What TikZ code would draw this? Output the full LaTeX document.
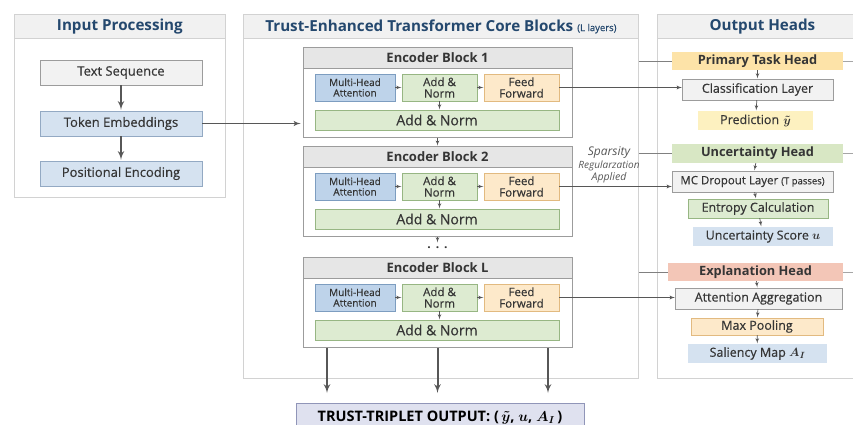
\documentclass[tikz,border=0pt]{standalone}
\usepackage{amsmath}
\usepackage{fontspec}
\setmainfont{Open Sans}[UprightFeatures = {FakeBold = 0.4}]
\usepackage{tikz}
\usetikzlibrary{arrows,calc,shapes,positioning}

\definecolor{panelline}{HTML}{D2D2D2}
\definecolor{hdrfill}{HTML}{F1F1F1}
\definecolor{ttlblue}{HTML}{24486E}
\definecolor{txtgray}{HTML}{353535}
\definecolor{arrgray}{HTML}{575757}
\definecolor{grayfill}{HTML}{F2F2F2}
\definecolor{grayline}{HTML}{9C9C9C}
\definecolor{bluefill}{HTML}{D5E2F0}
\definecolor{blueline}{HTML}{93A9C3}
\definecolor{mhafill}{HTML}{BED3EA}
\definecolor{mhaline}{HTML}{7D9DC0}
\definecolor{anfill}{HTML}{DDEBD1}
\definecolor{anline}{HTML}{97B683}
\definecolor{fffill}{HTML}{FDE9CA}
\definecolor{ffline}{HTML}{E2BA80}
\definecolor{enchdr}{HTML}{E6E6E6}
\definecolor{primfill}{HTML}{FDE3A8}
\definecolor{predfill}{HTML}{FDF1C0}
\definecolor{uncfill}{HTML}{D8E7C4}
\definecolor{explfill}{HTML}{F3C6B7}
\definecolor{outfill}{HTML}{DFE1EF}
\definecolor{outline}{HTML}{9095B8}

\begin{document}
\begin{tikzpicture}[
    x = 1pt, y = -1pt,
    font = \fontsize{11}{13}\selectfont
  ]

  \useasboundingbox (0,0) rectangle (853,425);
  \clip (0,0) rectangle (853,425);

  \tikzstyle {every node} = [text = txtgray, inner sep = 0, align = center]
  \tikzstyle {every path} = [color = arrgray, -latex']
  \tikzstyle {panel} = [draw = panelline, fill = white, line width = 0.8pt, anchor = north west]
  \tikzstyle {hdr} = [draw = panelline, fill = hdrfill, line width = 0.8pt, anchor = north west, minimum height = 24, text = ttlblue, font = \bfseries\fontsize{15.2}{17}\selectfont]
  \tikzstyle {inbox} = [draw = grayline, minimum width = 162, minimum height = 25, font = \fontsize{13}{15}\selectfont]
  \tikzstyle {thick arr} = [line width = 2pt, -latex', shorten >= 1pt]
  \tikzstyle {enc} = [draw = grayline, fill = white, line width = 0.8pt, minimum width = 269, minimum height = 90, anchor = north]
  \tikzstyle {enchead} = [draw = grayline, fill = enchdr, line width = 0.8pt, minimum width = 269, minimum height = 21, anchor = north, font = \bfseries\fontsize{13}{15}\selectfont]
  \tikzstyle {mha} = [draw = mhaline, fill = mhafill, minimum width = 80, minimum height = 27, font = \fontsize{10}{10.5}\selectfont]
  \tikzstyle {an} = [draw = anline, fill = anfill, minimum width = 75, minimum height = 27, font = \fontsize{11.5}{11.5}\selectfont]
  \tikzstyle {ff} = [draw = ffline, fill = fffill, minimum width = 75, minimum height = 27, font = \fontsize{11.5}{11.5}\selectfont]
  \tikzstyle {anwide} = [draw = anline, fill = anfill, minimum width = 244, minimum height = 20, font = \fontsize{14}{15}\selectfont]
  \tikzstyle {headbox} = [minimum height = 18, font = \bfseries\fontsize{12.8}{14}\selectfont]
  \tikzstyle {layer} = [draw = grayline, fill = grayfill, minimum height = 21, font = \fontsize{12.5}{14}\selectfont]
  \tikzstyle {res} = [minimum height = 19, font = \fontsize{12.5}{14}\selectfont]
  \tikzstyle {tiny arr} = [line width = 0.7pt, -latex', shorten >= 0.5pt]

  % panels
  \node [panel, minimum width = 211, minimum height = 183] (input) at (14,14) {};
  \node [hdr, minimum width = 211] (inputhdr) at (14,14) {Input Processing};
  \node [panel, minimum width = 395, minimum height = 364] (core) at (243,14) {};
  \node [hdr, minimum width = 395] (corehdr) at (243,14) {Trust-Enhanced Transformer Core Blocks {\mdseries\fontsize{9.5}{10}\selectfont (L layers)}};
  \node [panel, minimum width = 210, minimum height = 364] (heads) at (657,14) {};
  \node [hdr, minimum width = 210] (headshdr) at (657,14) {Output Heads};
  \coordinate (edge) at (853,0);

  % input processing
  \node [inbox, fill = grayfill] (txtseq) at (121,72.5) {Text Sequence};
  \node [inbox, fill = bluefill, draw = blueline] (tokemb) at (121,123.5) {Token Embeddings};
  \node [inbox, fill = bluefill, draw = blueline] (posenc) at (121,173.5) {Positional Encoding};

  \draw [thick arr] (txtseq) -- (tokemb);
  \draw [thick arr] (tokemb) -- (posenc);

  % encoder blocks
  \node [enc] (blk1) at (437.5,47) {};
  \node [enchead] (blk1hdr) at (437.5,47) {Encoder Block 1};
  \node [mha] (mha1) at (355,87.5) {Multi-Head\\Attention};
  \node [an] (an1) at (439.5,87.5) {Add \&\\Norm};
  \node [ff] (ff1) at (521.5,87.5) {Feed\\Forward};
  \node [anwide] (add1) at (437,120) {Add \& Norm};

  \node [enc] (blk2) at (437.5,146) {};
  \node [enchead] (blk2hdr) at (437.5,146) {Encoder Block 2};
  \node [mha] (mha2) at (355,186.5) {Multi-Head\\Attention};
  \node [an] (an2) at (439.5,186.5) {Add \&\\Norm};
  \node [ff] (ff2) at (521.5,186.5) {Feed\\Forward};
  \node [anwide] (add2) at (437,219) {Add \& Norm};

  \node [minimum height = 10, font = \bfseries\fontsize{12}{13}\selectfont] (dots) at (437.5,248) {.\hspace{5pt}.\hspace{5pt}.};

  \node [enc] (blkL) at (437.5,257) {};
  \node [enchead] (blkLhdr) at (437.5,257) {Encoder Block L};
  \node [mha] (mhaL) at (355,297.5) {Multi-Head\\Attention};
  \node [an] (anL) at (439.5,297.5) {Add \&\\Norm};
  \node [ff] (ffL) at (521.5,297.5) {Feed\\Forward};
  \node [anwide] (addL) at (437,330) {Add \& Norm};

  \draw [tiny arr] (mha1) -- (an1);
  \draw [tiny arr] (an1) -- (ff1);
  \draw [tiny arr] (an1) -- (an1 |- add1.north);
  \draw [tiny arr] (mha2) -- (an2);
  \draw [tiny arr] (an2) -- (ff2);
  \draw [tiny arr] (an2) -- (an2 |- add2.north);
  \draw [tiny arr] (mhaL) -- (anL);
  \draw [tiny arr] (anL) -- (ffL);
  \draw [tiny arr] (anL) -- (anL |- addL.north);
  \draw [tiny arr] (blk1) -- (blk2);
  \draw [tiny arr] (blk2) -- (dots);

  \draw [line width = 1.4pt, shorten >= 2pt] (tokemb.east) -- (tokemb.east -| blk1.west);

  \node [text = arrgray, font = \itshape\fontsize{10}{12.5}\selectfont] (sparse) at (609,165) {{\fontsize{12}{13}\selectfont Sparsity}\\Regularzation\\{\fontsize{10.5}{12}\selectfont Applied}};

  % output heads
  \node [headbox, fill = primfill, minimum width = 171] (prim) at (757.5,61) {Primary Task Head};
  \node [layer, minimum width = 151] (cls) at (757.5,89.5) {Classification Layer};
  \node [res, fill = predfill, minimum width = 115] (pred) at (755.5,120.5) {Prediction\,\,$\boldsymbol{\tilde{y}}$};

  \node [headbox, fill = uncfill, minimum width = 171, minimum height = 19] (unc) at (757.5,153.5) {Uncertainty Head};
  \node [layer, minimum width = 161, font = \fontsize{11.5}{13}\selectfont] (mc) at (752.5,181.5) {MC Dropout Layer {\fontsize{9.5}{10}\selectfont (T passes)}};
  \node [res, fill = anfill, draw = anline, minimum width = 140] (ent) at (758,208.5) {Entropy Calculation};
  \node [res, fill = bluefill, minimum width = 140] (usc) at (763,236.5) {Uncertainty Score $\boldsymbol{u}$};

  \node [headbox, fill = explfill, minimum width = 175] (expl) at (755.5,272) {Explanation Head};
  \node [layer, minimum width = 167] (att) at (758.5,298.5) {Attention Aggregation};
  \node [res, fill = fffill, draw = ffline, minimum width = 132, minimum height = 17] (maxp) at (757,326.5) {Max Pooling};
  \node [res, fill = bluefill, minimum width = 139] (sal) at (757.5,353.5) {Saliency Map $\boldsymbol{A_I}$};

  \draw [tiny arr] (prim) -- (cls);
  \draw [tiny arr] (cls) -- (pred);
  \draw [tiny arr] (unc) -- (mc);
  \draw [tiny arr] (mc) -- (ent);
  \draw [tiny arr] (ent) -- (usc);
  \draw [tiny arr] (expl) -- (att);
  \draw [tiny arr] (att) -- (maxp);
  \draw [tiny arr] (maxp) -- (sal);

  \draw [-, color = gray] (core.east |- prim.west) -- (prim.west);
  \draw [-, color = gray!70] (prim.east) -- (prim.east -| edge);
  \draw [-, color = gray] (core.east |- unc.west) -- (unc.west);
  \draw [-, color = gray!70] (unc.east) -- (unc.east -| edge);
  \draw [-, color = gray] (core.east |- expl.west) -- (expl.west);
  \draw [-, color = gray!70] (expl.east) -- (expl.east -| edge);

  \draw [line width = 0.8pt] (ff1.east) -- (ff1.east -| cls.west);
  \draw [line width = 0.8pt] (ff2.east) -- (ff2.east -| mc.west);
  \draw [line width = 0.8pt] (ffL.east) -- (ffL.east -| att.west);

  % trust triplet
  \node [draw = outline, fill = outfill, minimum width = 288, minimum height = 28, anchor = north, text = black, font = \bfseries\fontsize{14.5}{16}\selectfont] (out) at (440,403) {TRUST-TRIPLET OUTPUT: (\,$\boldsymbol{\tilde{y}}$, $\boldsymbol{u}$, $\boldsymbol{A_I}$\,)};

  \draw [thick arr, shorten >= 10pt] ([xshift = -110.5]blkL.south) -- ([xshift = -110.5]blkL.south |- out.north);
  \draw [thick arr, shorten >= 10pt] (blkL.south) -- (blkL.south |- out.north);
  \draw [thick arr, shorten >= 10pt] ([xshift = 110.5]blkL.south) -- ([xshift = 110.5]blkL.south |- out.north);
\end{tikzpicture}
\end{document}
